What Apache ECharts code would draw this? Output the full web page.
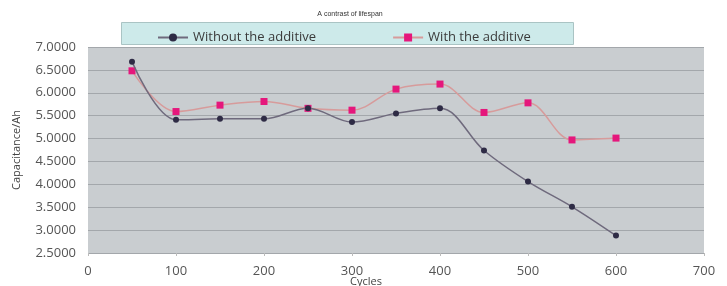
<!DOCTYPE html>
<html>
<head>
<meta charset="utf-8">
<script src="https://cdn.jsdelivr.net/npm/echarts@6/dist/echarts.min.js"></script>
<style>
  html, body { margin: 0; padding: 0; background: #fff; }
  #chart { width: 727px; height: 286px; }
</style>
</head>
<body>
<div id="chart"></div>
<script>
// cycles and capacitance (Ah)
var cycles = [50, 100, 150, 200, 250, 300, 350, 400, 450, 500, 550, 600];
var withoutAdditive = [6.68, 5.41, 5.43, 5.43, 5.66, 5.36, 5.55, 5.66, 4.74, 4.06, 3.51, 2.88];
var withAdditive = [6.48, 5.59, 5.73, 5.81, 5.66, 5.62, 6.08, 6.19, 5.57, 5.78, 4.97, 5.01];
var seriesNames = ['Without the additive', 'With the additive'];

function pairs(xs, ys) {
  return xs.map(function (x, i) { return [x, ys[i]]; });
}

var chart = echarts.init(document.getElementById('chart'));
var labelFont = 'Open Sans';

chart.setOption({
  animation: false,
  title: {
    text: 'A contrast of lifespan',
    left: 345,
    top: 6,
    textAlign: 'center',
    textStyle: { fontSize: 7, fontWeight: 'normal', color: '#333', fontFamily: 'Liberation Sans' }
  },
  graphic: [{
    type: 'rect',
    left: 121, top: 22,
    shape: { width: 452, height: 22 },
    style: { fill: '#cdeaea', stroke: '#aac4c4', lineWidth: 1 },
    z: 0
  }],
  legend: {
    left: 152,
    top: 26,
    itemGap: 76,
    itemWidth: 30,
    itemHeight: 10,
    data: seriesNames,
    textStyle: { fontSize: 13, color: '#3a3a3a', fontFamily: labelFont }
  },
  grid: {
    left: 88, right: 23, top: 47, bottom: 33,
    outerBoundsMode: 'none',
    show: true, backgroundColor: '#c9cdd0', borderWidth: 0
  },
  xAxis: {
    type: 'value',
    min: 0, max: 700, interval: 100,
    name: 'Cycles',
    nameLocation: 'middle',
    nameGap: 23,
    nameMoveOverlap: false,
    nameTextStyle: { fontSize: 11, color: '#444', fontFamily: labelFont, padding: [0, 60, 0, 0] },
    axisLine: { show: false },
    axisTick: { show: true, length: 3, lineStyle: { color: '#bbb' } },
    axisLabel: { fontSize: 13, color: '#555', fontFamily: labelFont, margin: 12 },
    splitLine: { show: false }
  },
  yAxis: {
    type: 'value',
    min: 2.5, max: 7, interval: 0.5,
    name: 'Capacitance/Ah',
    nameLocation: 'middle',
    nameGap: 66,
    nameMoveOverlap: false,
    nameTextStyle: { fontSize: 11, color: '#444', fontFamily: labelFont },
    axisLine: { show: false },
    axisTick: { show: false },
    axisLabel: {
      fontSize: 13, color: '#555', fontFamily: labelFont, margin: 12,
      formatter: function (v) { return v.toFixed(4); }
    },
    splitLine: { lineStyle: { color: '#a3a7ab', width: 1 } }
  },
  series: [{
    name: seriesNames[0],
    type: 'line',
    smooth: 0.35,
    data: pairs(cycles, withoutAdditive),
    symbol: 'circle',
    symbolSize: 6,
    itemStyle: { color: '#2e2b45' },
    lineStyle: { color: '#6f6a7d', width: 1.5 },
    z: 3
  }, {
    name: seriesNames[1],
    type: 'line',
    smooth: 0.35,
    data: pairs(cycles, withAdditive),
    symbol: 'rect',
    symbolSize: 7,
    itemStyle: { color: '#e5177c' },
    lineStyle: { color: '#d79b9b', width: 1.5 },
    z: 2
  }]
});
</script>
</body>
</html>
